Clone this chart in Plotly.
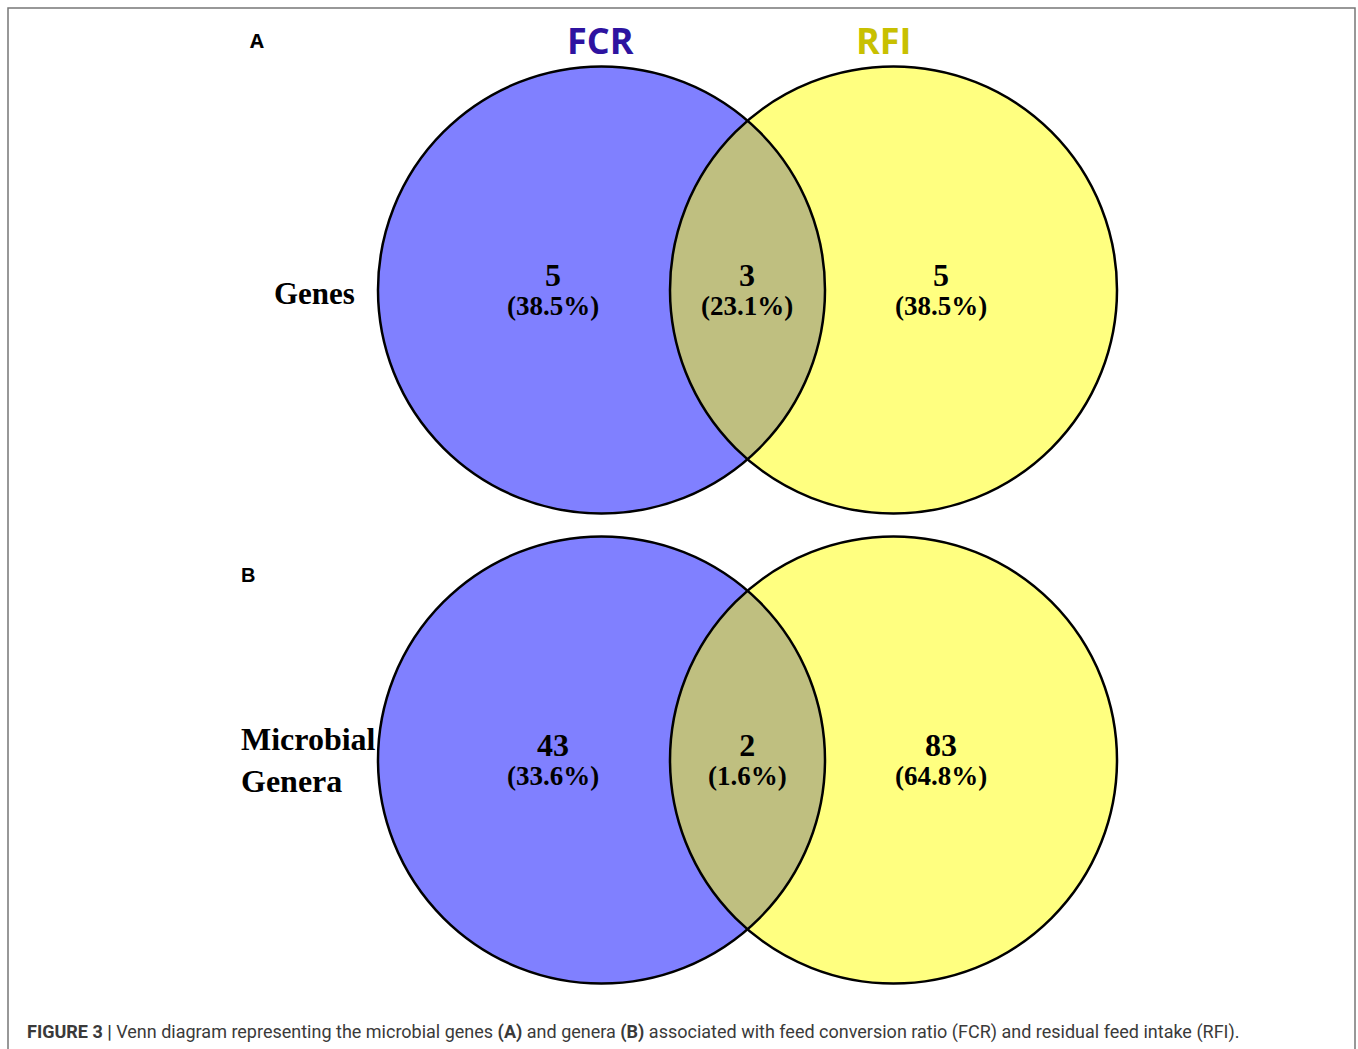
import numpy as np
import plotly.graph_objects as go

# data
set_names = ["FCR", "RFI"]
set_colors = ["#2e13a0", "#c8c000"]
panel_tags = ["A", "B"]
row_labels = ["Genes", "Microbial<br>Genera"]
only_fcr = [5, 43]
shared = [3, 2]
only_rfi = [5, 83]
only_fcr_pct = ["38.5%", "33.6%"]
shared_pct = ["23.1%", "1.6%"]
only_rfi_pct = ["38.5%", "64.8%"]

# layout (pixel space)
W, H = 1358, 1049
cx_left, cx_right = 601.5, 893.5
rad = 223.5
cy_rows = [290, 760]
blue = "#8080ff"
yellow = "#ffff80"
lens_col = "#bfbf80"
serif = "Liberation Serif, Times New Roman, serif"

fig = go.Figure()
shapes = []
annos = []

d_half = (cx_right - cx_left) / 2
th0 = np.arccos(d_half / rad)

for i, cy in enumerate(cy_rows):
    # filled circles
    shapes.append(dict(type="circle", xref="x", yref="y", layer="below",
                       x0=cx_left - rad, x1=cx_left + rad, y0=cy - rad, y1=cy + rad,
                       fillcolor=blue, line=dict(width=0)))
    shapes.append(dict(type="circle", xref="x", yref="y", layer="below",
                       x0=cx_right - rad, x1=cx_right + rad, y0=cy - rad, y1=cy + rad,
                       fillcolor=yellow, line=dict(width=0)))
    # intersection lens
    t1 = np.linspace(-th0, th0, 120)
    t2 = np.linspace(np.pi - th0, np.pi + th0, 120)
    lx = np.concatenate([cx_left + rad * np.cos(t1), cx_right + rad * np.cos(t2)])
    ly = np.concatenate([cy + rad * np.sin(t1), cy + rad * np.sin(t2)])
    fig.add_trace(go.Scatter(x=lx, y=ly, fill="toself", fillcolor=lens_col,
                             mode="lines", line=dict(width=0), hoverinfo="skip",
                             showlegend=False))
    # outlines on top
    for cx in (cx_left, cx_right):
        shapes.append(dict(type="circle", xref="x", yref="y", layer="above",
                           x0=cx - rad, x1=cx + rad, y0=cy - rad, y1=cy + rad,
                           fillcolor="rgba(0,0,0,0)", line=dict(color="black", width=2.5)))

    counts = [only_fcr[i], shared[i], only_rfi[i]]
    pcts = [only_fcr_pct[i], shared_pct[i], only_rfi_pct[i]]
    for xx, c, p in zip([553, 747, 941], counts, pcts):
        txt = ("<span style='font-size:32px'><b>%d</b></span><br>"
               "<span style='font-size:27px'><b>(%s)</b></span>" % (c, p))
        annos.append(dict(x=xx, y=cy - 1, text=txt, showarrow=False,
                          font=dict(family=serif, size=22, color="black")))

# row labels
annos.append(dict(x=272, y=293, text="<b>" + row_labels[0] + "</b>", showarrow=False,
                  xanchor="left", font=dict(family=serif, size=31, color="black")))
annos.append(dict(x=239, y=760, text="<b>" + row_labels[1] + "</b>", showarrow=False,
                  xanchor="left", align="left",
                  font=dict(family=serif, size=32, color="black")))

# panel tags
annos.append(dict(x=257, y=40, text="<b>" + panel_tags[0] + "</b>", showarrow=False,
                  font=dict(family="Open Sans, sans-serif", size=20, color="black")))
annos.append(dict(x=248, y=575, text="<b>" + panel_tags[1] + "</b>", showarrow=False,
                  font=dict(family="Liberation Sans, Arial, sans-serif", size=20, color="black")))

# set titles
for nm, col, xx in zip(set_names, set_colors, [600, 883]):
    annos.append(dict(x=xx, y=40, text="<b>" + nm + "</b>", showarrow=False,
                      font=dict(family="Open Sans, sans-serif", size=36, color=col)))

# caption
caption = ("<b>FIGURE 3 |</b> Venn diagram representing the microbial genes <b>(A)</b> and genera "
           "<b>(B)</b> associated with feed conversion ratio (FCR) and residual feed intake (RFI).")
annos.append(dict(x=25, y=1032, text=caption, showarrow=False, xanchor="left",
                  font=dict(family="Roboto, Arial, sans-serif", size=18, color="#3a3a3a")))

# frame
shapes.append(dict(type="rect", xref="x", yref="y", layer="above",
                   x0=8, x1=1355, y0=8, y1=1070,
                   line=dict(color="#777777", width=1.5), fillcolor="rgba(0,0,0,0)"))

fig.update_layout(
    width=W, height=H,
    margin=dict(l=0, r=0, t=0, b=0),
    paper_bgcolor="white", plot_bgcolor="white",
    xaxis=dict(range=[0, W], visible=False, fixedrange=True),
    yaxis=dict(range=[H, 0], visible=False, fixedrange=True),
    shapes=shapes, annotations=annos,
    showlegend=False,
)

fig.write_html("out.html", config={"displayModeBar": False},
               post_script="document.body.style.margin='0';document.body.style.overflow='hidden';")
